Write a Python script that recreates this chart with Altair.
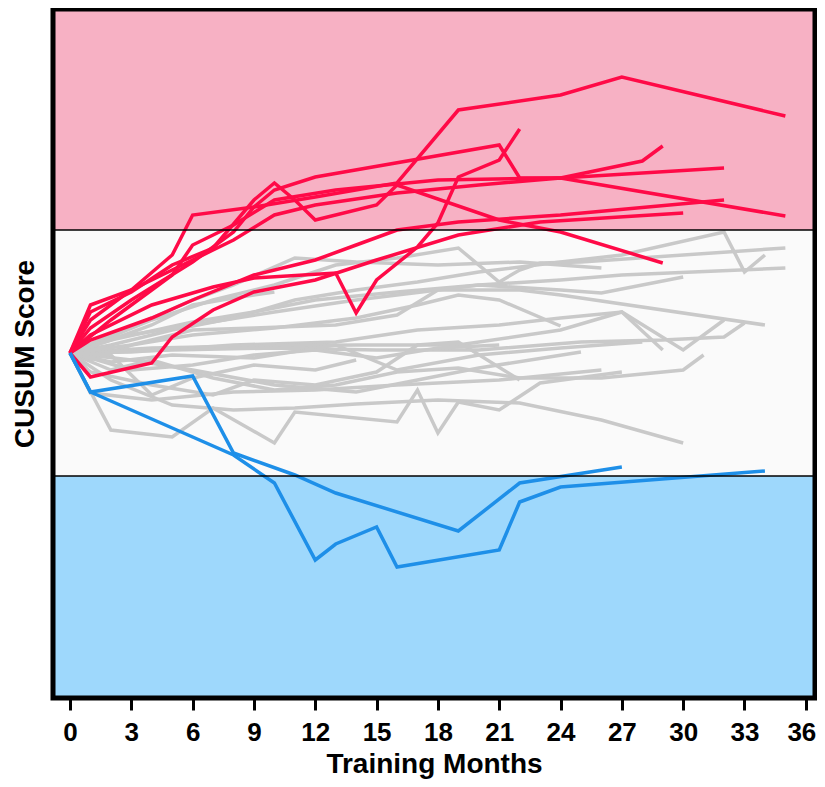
import altair as alt
import pandas as pd

# ---- data (month, CUSUM score) ----
blue_lines = {
    "B1": ([0, 1, 6, 8, 11, 13, 19, 22, 27],
           [0, -3.9, -2.3, -10.0, -12.2, -14.0, -17.8, -13.0, -11.4]),
    "B2": ([0, 1, 6, 8, 10, 12, 13, 15, 16, 21, 22, 24, 34],
           [0, -3.9, -8.4, -10.2, -13.0, -20.7, -19.1, -17.4, -21.4, -19.7, -14.9, -13.4, -11.8]),
}

red_lines = {
    "R1": ([0, 1, 3, 5, 6, 9, 12, 16, 19, 24, 27, 35],
           [0, 3.3, 6.3, 9.8, 13.8, 14.6, 15.6, 17.0, 24.3, 25.8, 27.6, 23.7]),
    "R2": ([0, 1, 4, 7, 9, 13, 14, 15, 17, 18, 19, 21, 22],
           [0, 1.8, 4.8, 6.6, 7.5, 8.0, 4.0, 7.3, 10.6, 13.0, 17.6, 19.3, 22.4]),
    "R3": ([0, 1, 3, 6, 8, 9, 10, 12, 21, 22, 24, 32],
           [0, 2.5, 5.3, 9.1, 12.1, 14.6, 16.3, 17.6, 20.8, 17.5, 17.5, 18.5]),
    "R4": ([0, 1, 3, 5, 7, 8, 10, 12, 16, 20, 24, 28, 29],
           [0, 4.8, 6.3, 8.3, 10.3, 11.3, 13.8, 14.8, 16.0, 16.8, 17.5, 19.2, 20.7]),
    "R5": ([0, 2, 4, 5, 6, 8, 10, 13, 18, 24, 35],
           [0, 3.3, 6.3, 7.8, 10.8, 12.8, 15.3, 16.3, 17.3, 17.5, 13.7]),
    "R6": ([0, 1, 4, 6, 9, 12, 14, 16, 19, 24, 32],
           [0, 1.3, 3.5, 5.3, 7.8, 9.3, 10.8, 12.3, 13.1, 13.8, 15.3]),
    "R7": ([0, 1, 3, 5, 7, 9, 10, 11, 12, 15, 16, 21, 24, 29],
           [0, 4.1, 6.1, 8.8, 10.5, 15.3, 17.0, 15.3, 13.3, 14.8, 16.8, 13.3, 12.1, 9.0]),
    "R8": ([0, 1, 4, 5, 7, 9, 12, 15, 19, 23, 30],
           [0, -2.4, -1.0, 1.6, 4.3, 6.1, 7.3, 9.3, 11.8, 13.1, 14.0]),
}

gray_lines = {
    "G1": ([0, 2, 5, 8, 11, 14, 17, 20, 24, 27, 32, 33, 34],
           [0, 0.8, 2.3, 3.5, 5.3, 6.3, 7.1, 8.1, 9.1, 9.8, 12.1, 8.1, 9.8]),
    "G2": ([0, 1, 4, 7, 10, 13, 16, 19, 21, 22, 23, 25, 35],
           [0, 0.8, 3.3, 5.3, 6.8, 8.8, 9.5, 10.5, 7.1, 8.3, 9.0, 9.1, 10.5]),
    "G3": ([0, 2, 6, 9, 12, 16, 20, 24, 27, 35],
           [0, 1.3, 3.1, 4.1, 5.3, 6.1, 6.8, 7.3, 7.8, 8.5]),
    "G4": ([0, 1, 3, 6, 9, 13, 16, 18, 20, 24, 26, 30],
           [0, -0.7, 0.8, 2.3, 2.5, 2.8, 3.8, 6.3, 6.8, 6.3, 6.0, 7.6]),
    "G5": ([0, 2, 6, 10, 14, 18, 22, 24, 34],
           [0, 1.5, 2.8, 4.1, 5.3, 6.3, 6.3, 5.8, 2.8]),
    "G6": ([0, 3, 8, 13, 17, 21, 24, 27, 29],
           [0, 0.1, 0.8, 1.1, 2.3, 2.8, 3.5, 4.1, 0.3]),
    "G7": ([0, 4, 9, 14, 19, 24, 27, 30, 32],
           [0, 0.5, 0.7, 0.8, 0.8, 2.3, 4.1, 0.3, 3.3]),
    "G8": ([0, 5, 10, 15, 20, 25, 29, 32, 33],
           [0, 0.3, 0.5, 0.3, 0.3, 1.1, 1.3, 1.6, 3.0]),
    "G9": ([0, 2, 5, 9, 13, 16, 20, 24, 28],
           [0, -0.9, -0.2, -0.5, 0.8, -1.7, -0.2, 0.5, 1.1]),
    "G10": ([0, 3, 6, 10, 14, 17, 20, 25],
            [0, -0.7, -1.7, -3.2, -3.9, -2.7, -1.5, 0.1]),
    "G11": ([0, 2, 4, 7, 10, 13, 16, 19, 22, 26, 30, 31],
            [0, -1.7, -0.7, -2.5, -3.7, -3.2, -1.9, -1.5, -2.5, -2.5, -1.7, -0.2]),
    "G12": ([0, 2, 5, 8, 11, 14, 18, 22, 26, 30],
            [0, -2.7, -5.2, -5.7, -5.5, -5.1, -4.7, -5.0, -6.7, -9.0]),
    "G13": ([0, 2, 4, 6, 8, 10],
            [0, 1.3, 2.8, 4.8, 5.5, 6.1]),
    "G14": ([0, 3, 6, 10, 14, 17, 19, 21, 24],
            [0, 0.8, 1.8, 2.5, 3.5, 4.8, 5.8, 5.3, 2.7]),
    "G15": ([0, 1, 4, 7, 9, 12, 15, 17, 19, 22],
            [0, -1.9, -3.2, -4.2, -2.7, -3.2, -1.9, 0.8, 1.1, -2.7]),
    "G16": ([0, 2, 5, 7, 10, 11, 16, 17, 18, 19, 21, 23, 27],
            [0, -7.7, -8.4, -5.5, -9.0, -5.9, -6.9, -3.7, -8.0, -4.9, -5.7, -3.0, -1.9]),
    "G17": ([0, 1, 4, 8, 12, 16, 21, 26],
            [0, -4.0, -4.7, -3.9, -3.7, -3.2, -2.7, -1.7]),
    "G18": ([0, 2, 4, 6, 8, 11, 14, 18, 22, 26],
            [0, 1.8, 3.5, 5.3, 6.8, 9.5, 9.1, 8.8, 9.1, 8.5]),
    "G19": ([0, 1, 3, 6, 9, 12, 15, 18, 21],
            [0, -0.5, -1.7, -1.2, -0.2, 0.3, -0.5, 0.5, 0.8]),
    "G20": ([0, 2, 4, 6, 9, 12, 14],
            [0, -0.2, -4.2, -2.5, -1.2, -1.7, -0.7]),
}

x_ticks = [0, 3, 6, 9, 12, 15, 18, 21, 24, 27, 30, 33, 36]
threshold = 12.3
y_min, y_max = -34.5, 34.4
band_names = ["upper", "middle", "lower"]
band_lo = [threshold, -threshold, y_min]
band_hi = [y_max, threshold, -threshold]
band_colors = ["#F7B1C4", "#FAFAFA", "#9ED8FC"]

W, H = 762, 689
FONT = "Liberation Sans, Arial, Helvetica, sans-serif"


def to_df(lines):
    rows = []
    for name, (ms, ss) in lines.items():
        for m, s in zip(ms, ss):
            rows.append({"line": name, "month": m, "score": s})
    return pd.DataFrame(rows)


xscale = alt.Scale(domain=[-0.832, 36.45], nice=False, zero=False)
yscale = alt.Scale(domain=[y_min, y_max], nice=False, zero=False)

xaxis = alt.Axis(values=x_ticks, title="Training Months", grid=False,
                 domain=False, tickSize=12, tickWidth=3, tickColor="black",
                 labelFontSize=26, labelFontWeight="bold", labelFont=FONT,
                 labelColor="black", labelPadding=9, labelFlush=False,
                 labelAlign={"condition": {"test": "datum.value === 36", "value": "right"},
                             "value": "center"},
                 labelOffset={"condition": {"test": "datum.value === 36", "value": 10},
                              "value": 0},
                 titleFontSize=28, titleFontWeight="bold", titleFont=FONT,
                 titleColor="black", titlePadding=5)
yaxis = alt.Axis(title="CUSUM Score", labels=False, ticks=False, domain=False,
                 grid=False, titleFontSize=28, titleFontWeight="bold",
                 titleFont=FONT, titleColor="black", titlePadding=14)

xenc = alt.X("month:Q", scale=xscale, axis=xaxis)
yenc = alt.Y("score:Q", scale=yscale, axis=yaxis, title="CUSUM Score")

bands_df = pd.DataFrame({"band": band_names, "lo": band_lo, "hi": band_hi,
                         "color": band_colors})
bands = alt.Chart(bands_df).mark_rect().encode(
    x=alt.value(0), x2=alt.value(W),
    y=alt.Y("lo:Q", scale=yscale, axis=yaxis, title="CUSUM Score"), y2="hi:Q",
    fill=alt.Fill("color:N", scale=None),
)

rules_df = pd.DataFrame({"t": [threshold, -threshold]})
rules = alt.Chart(rules_df).mark_rule(color="black", strokeWidth=1.3).encode(
    y=alt.Y("t:Q", scale=yscale, axis=yaxis, title="CUSUM Score")
)


def line_layer(lines, color):
    return alt.Chart(to_df(lines)).mark_line(
        color=color, strokeWidth=3.5, strokeJoin="miter", strokeCap="butt"
    ).encode(
        x=xenc,
        y=yenc,
        detail="line:N",
        order="month:Q",
    )


gray = line_layer(gray_lines, "#C9C9C9")
red = line_layer(red_lines, "#FF0A47")
blue = line_layer(blue_lines, "#1E8FE8")

frame = alt.Chart(pd.DataFrame({"a": [0]})).mark_rect(
    fill=None, stroke="black", strokeWidth=5
).encode(x=alt.value(0), x2=alt.value(W), y=alt.value(0), y2=alt.value(H))

chart = alt.layer(bands, gray, red, blue, rules, frame).properties(
    width=W, height=H,
    autosize=alt.AutoSizeParams(type="none"),
    padding={"left": 45, "top": 1, "right": 2, "bottom": 81},
    background="white",
).configure_view(stroke=None)

chart.save("out.html", embed_options={"renderer": "svg", "actions": False})
